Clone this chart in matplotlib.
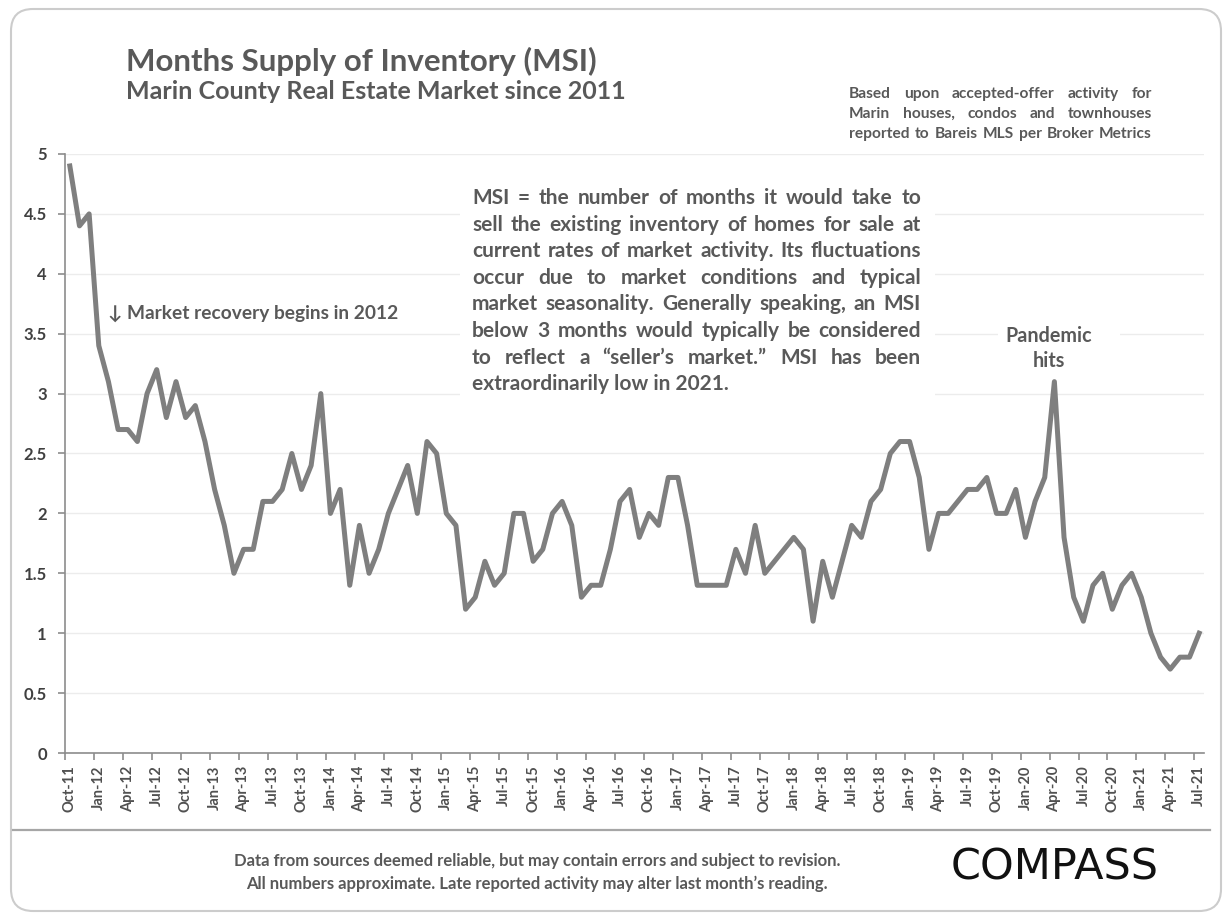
import matplotlib
matplotlib.use("Agg")
import matplotlib.pyplot as plt
import numpy as np
import pandas as pd
from matplotlib.patches import FancyBboxPatch, Rectangle

# monthly MSI, Oct-11 .. Jul-21
msi = [4.9, 4.4, 4.5,
       3.4, 3.1, 2.7, 2.7, 2.6, 3.0, 3.2, 2.8, 3.1, 2.8, 2.9, 2.6,
       2.2, 1.9, 1.5, 1.7, 1.7, 2.1, 2.1, 2.2, 2.5, 2.2, 2.4, 3.0,
       2.0, 2.2, 1.4, 1.9, 1.5, 1.7, 2.0, 2.2, 2.4, 2.0, 2.6, 2.5,
       2.0, 1.9, 1.2, 1.3, 1.6, 1.4, 1.5, 2.0, 2.0, 1.6, 1.7, 2.0,
       2.1, 1.9, 1.3, 1.4, 1.4, 1.7, 2.1, 2.2, 1.8, 2.0, 1.9, 2.3,
       2.3, 1.9, 1.4, 1.4, 1.4, 1.4, 1.7, 1.5, 1.9, 1.5, 1.6, 1.7,
       1.8, 1.7, 1.1, 1.6, 1.3, 1.6, 1.9, 1.8, 2.1, 2.2, 2.5, 2.6,
       2.6, 2.3, 1.7, 2.0, 2.0, 2.1, 2.2, 2.2, 2.3, 2.0, 2.0, 2.2,
       1.8, 2.1, 2.3, 3.1, 1.8, 1.3, 1.1, 1.4, 1.5, 1.2, 1.4, 1.5,
       1.3, 1.0, 0.8, 0.7, 0.8, 0.8, 1.0]
months = list(pd.date_range("2011-10-01", periods=len(msi), freq="MS").strftime("%b-%y"))
yticks = [0, 0.5, 1, 1.5, 2, 2.5, 3, 3.5, 4, 4.5, 5]

title = "Months Supply of Inventory (MSI)"
subtitle = "Marin County Real Estate Market since 2011"
note = ["Based upon accepted-offer activity for",
        "Marin houses, condos and townhouses",
        "reported to Bareis MLS per Broker Metrics"]
para = ["MSI = the number of months it would take to",
        "sell the existing inventory of homes for sale at",
        "current rates of market activity.  Its fluctuations",
        "occur due to market conditions and typical",
        "market seasonality. Generally speaking, an MSI",
        "below 3 months would typically be considered",
        "to reflect a \u201cseller\u2019s market.\u201d MSI has been",
        "extraordinarily low in 2021."]
footer = ["Data from sources deemed reliable, but may contain errors and subject to revision.",
          "All numbers approximate. Late reported activity may alter last month\u2019s reading."]

FONT = ["Lato", "DejaVu Sans"]
TXT = "#595959"
W, H = 1229, 918

plt.rcParams["font.family"] = FONT
fig = plt.figure(figsize=(W / 100, H / 100), dpi=100)
fig.patch.set_facecolor("white")

# plot area in pixels: x 65..1204, y 154..753
ax = fig.add_axes([65 / W, (H - 753) / H, (1204 - 65) / W, (753 - 154) / H])
ax.set_facecolor("none")
x = np.arange(len(msi))
ax.plot(x, msi, color="#7f7f7f", lw=3.6, solid_joinstyle="round", zorder=3)
ax.set_xlim(-0.5, len(msi) - 0.5)
ax.set_ylim(0, 5)
ax.set_yticks(yticks)
ax.set_yticklabels([f"{v:g}" for v in yticks])
ax.yaxis.grid(True, color="#ececec", lw=1)
ax.set_axisbelow(True)
for s in ["top", "right"]:
    ax.spines[s].set_visible(False)
for s in ["left", "bottom"]:
    ax.spines[s].set_color("#8c8c8c")
    ax.spines[s].set_linewidth(1.2)
ax.set_xticks(x[::3])
ax.set_xticklabels(months[::3], rotation=90)
ax.set_xticks(np.arange(-0.5, len(msi) - 1, 3), minor=True)
ax.tick_params(axis="x", which="major", length=0, pad=9, labelsize=10.5, labelcolor="#505050")
ax.tick_params(axis="x", which="minor", length=5, color="#8c8c8c", width=1.2)
ax.tick_params(axis="y", length=5, color="#8c8c8c", width=1.2, pad=8, labelsize=12, labelcolor="#404040")
for lab in ax.get_xticklabels() + ax.get_yticklabels():
    lab.set_fontweight("bold")

# overlay in pixel coordinates
ov = fig.add_axes([0, 0, 1, 1], zorder=5)
ov.set_xlim(0, W)
ov.set_ylim(H, 0)
ov.axis("off")
ov.patch.set_alpha(0)

ov.add_patch(FancyBboxPatch((11, 9), 1210, 902, boxstyle="round,pad=0,rounding_size=22",
                            fc="none", ec="#cccccc", lw=1.5))
ov.plot([13, 1210], [830, 830], color="#a6a6a6", lw=1.6)

ov.text(126, 71, title, fontsize=22.5, fontweight="bold", color=TXT)
ov.text(126, 99, subtitle, fontsize=18, fontweight="bold", color=TXT)

r = fig.canvas.get_renderer()


def justify(lines, x0, x1, y0, dy, size, last_full=False):
    for i, line in enumerate(lines):
        y = y0 + i * dy
        if i == len(lines) - 1 and not last_full:
            ov.text(x0, y, line, fontsize=size, fontweight="bold", color=TXT)
            continue
        words = line.split()
        ts = [ov.text(0, y, w, fontsize=size, fontweight="bold", color=TXT) for w in words]
        ws = [t.get_window_extent(r).width for t in ts]
        gap = max((x1 - x0 - sum(ws)) / (len(words) - 1), 3)
        xx = x0
        for t, w in zip(ts, ws):
            t.set_x(xx)
            xx += w + gap


ov.add_patch(Rectangle((460, 170), 475, 230, fc="white", ec="none"))
justify(para, 472, 921, 204, 26.6, 15)
justify(note, 849, 1152, 98, 20, 11.2, last_full=True)

ov.text(108, 319, "\u2193 Market recovery begins in 2012", fontsize=13.8, fontweight="bold", color=TXT)
ov.add_patch(Rectangle((998, 318), 122, 58, fc="white", ec="none"))
ov.text(1049, 342, "Pandemic", fontsize=14.2, fontweight="bold", color=TXT, ha="center")
ov.text(1049, 367, "hits", fontsize=14.2, fontweight="bold", color=TXT, ha="center")

ov.text(537, 866, footer[0], fontsize=12, fontweight="bold", color=TXT, ha="center")
ov.text(537, 889, footer[1], fontsize=12, fontweight="bold", color=TXT, ha="center")
ov.text(1055, 879, "COMPASS", fontsize=31, color="#111111", ha="center", family="DejaVu Sans")

fig.savefig("out.png", dpi=100)
